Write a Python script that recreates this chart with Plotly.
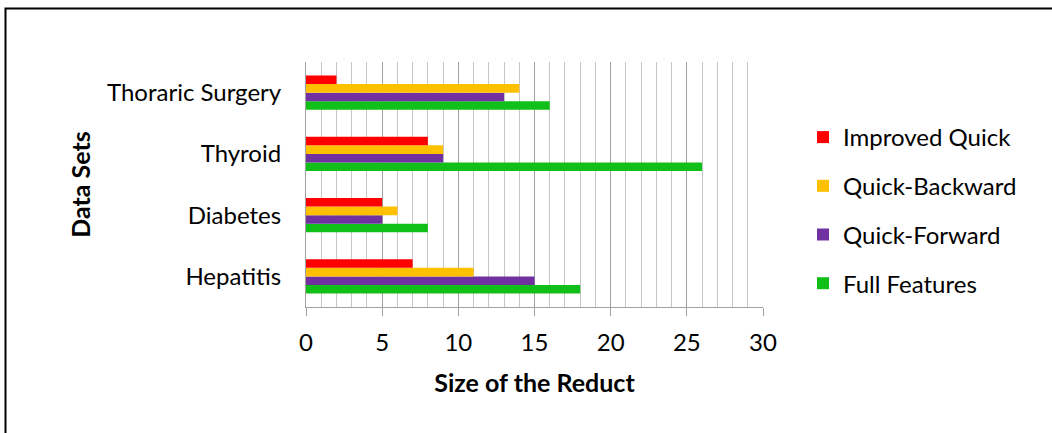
import plotly.graph_objects as go

categories = ["Hepatitis", "Diabetes", "Thyroid", "Thoraric Surgery"]
improved_quick = [7, 5, 8, 2]
quick_backward = [11, 6, 9, 14]
quick_forward = [15, 5, 9, 13]
full_features = [18, 8, 26, 16]

series = [
    ("Full Features", full_features, "#10BF18", 4),
    ("Quick-Forward", quick_forward, "#7030A0", 3),
    ("Quick-Backward", quick_backward, "#FFC000", 2),
    ("Improved Quick", improved_quick, "#FF0000", 1),
]

FONT = "Lato"
W, H = 1052, 433
L, R, T, B = 306, 763, 62, 307

fig = go.Figure()
for name, vals, col, rank in series:
    fig.add_trace(go.Bar(
        y=categories, x=vals, name=name, orientation="h",
        marker=dict(color=col, line=dict(width=0)),
        legendgroup=f"g{rank}", legendrank=rank,
    ))

def px_x(p):
    return (p - L) / (R - L)

def px_y(p):
    return (B - p) / (B - T)

fig.update_layout(
    width=W, height=H,
    margin=dict(l=L, r=W - R, t=T, b=H - B, pad=0, autoexpand=False),
    paper_bgcolor="white", plot_bgcolor="white",
    barmode="group", bargap=0.44, bargroupgap=0,
    font=dict(family=FONT, size=24, color="black"),
    legend=dict(
        traceorder="grouped", tracegroupgap=14.5,
        x=px_x(803), xanchor="left", y=px_y(115), yanchor="top",
        font=dict(family=FONT, size=24, color="black"),
        bgcolor="rgba(0,0,0,0)",
    ),
    xaxis=dict(
        range=[0, 30], dtick=5, tick0=0, automargin=False,
        showgrid=True, gridcolor="#A0A0A0", gridwidth=1,
        minor=dict(dtick=1, showgrid=True, gridcolor="#C6C6C6", gridwidth=1, ticks=""),
        showline=True, linecolor="#A0A0A0", linewidth=1,
        ticks="outside", ticklen=8, tickcolor="#A0A0A0",
        ticklabelstandoff=6,
        zeroline=False,
        title=dict(text="<b>Size of the Reduct</b>", font=dict(family=FONT, size=25), standoff=19),
    ),
    yaxis=dict(
        automargin=False,
        showgrid=False, showline=True, linecolor="#A0A0A0", linewidth=1,
        ticks="", ticklabelstandoff=19,
        title=dict(text="<b>Data Sets</b>", font=dict(family=FONT, size=25), standoff=9),
    ),
    shapes=[dict(
        type="rect", xref="paper", yref="paper",
        x0=px_x(5.5), x1=px_x(1100), y0=px_y(480), y1=px_y(8.5),
        line=dict(color="black", width=2), fillcolor="rgba(0,0,0,0)", layer="below",
    )],
)

fig.write_html("out.html", config={"displayModeBar": False},
               post_script="document.body.style.margin='0';")
